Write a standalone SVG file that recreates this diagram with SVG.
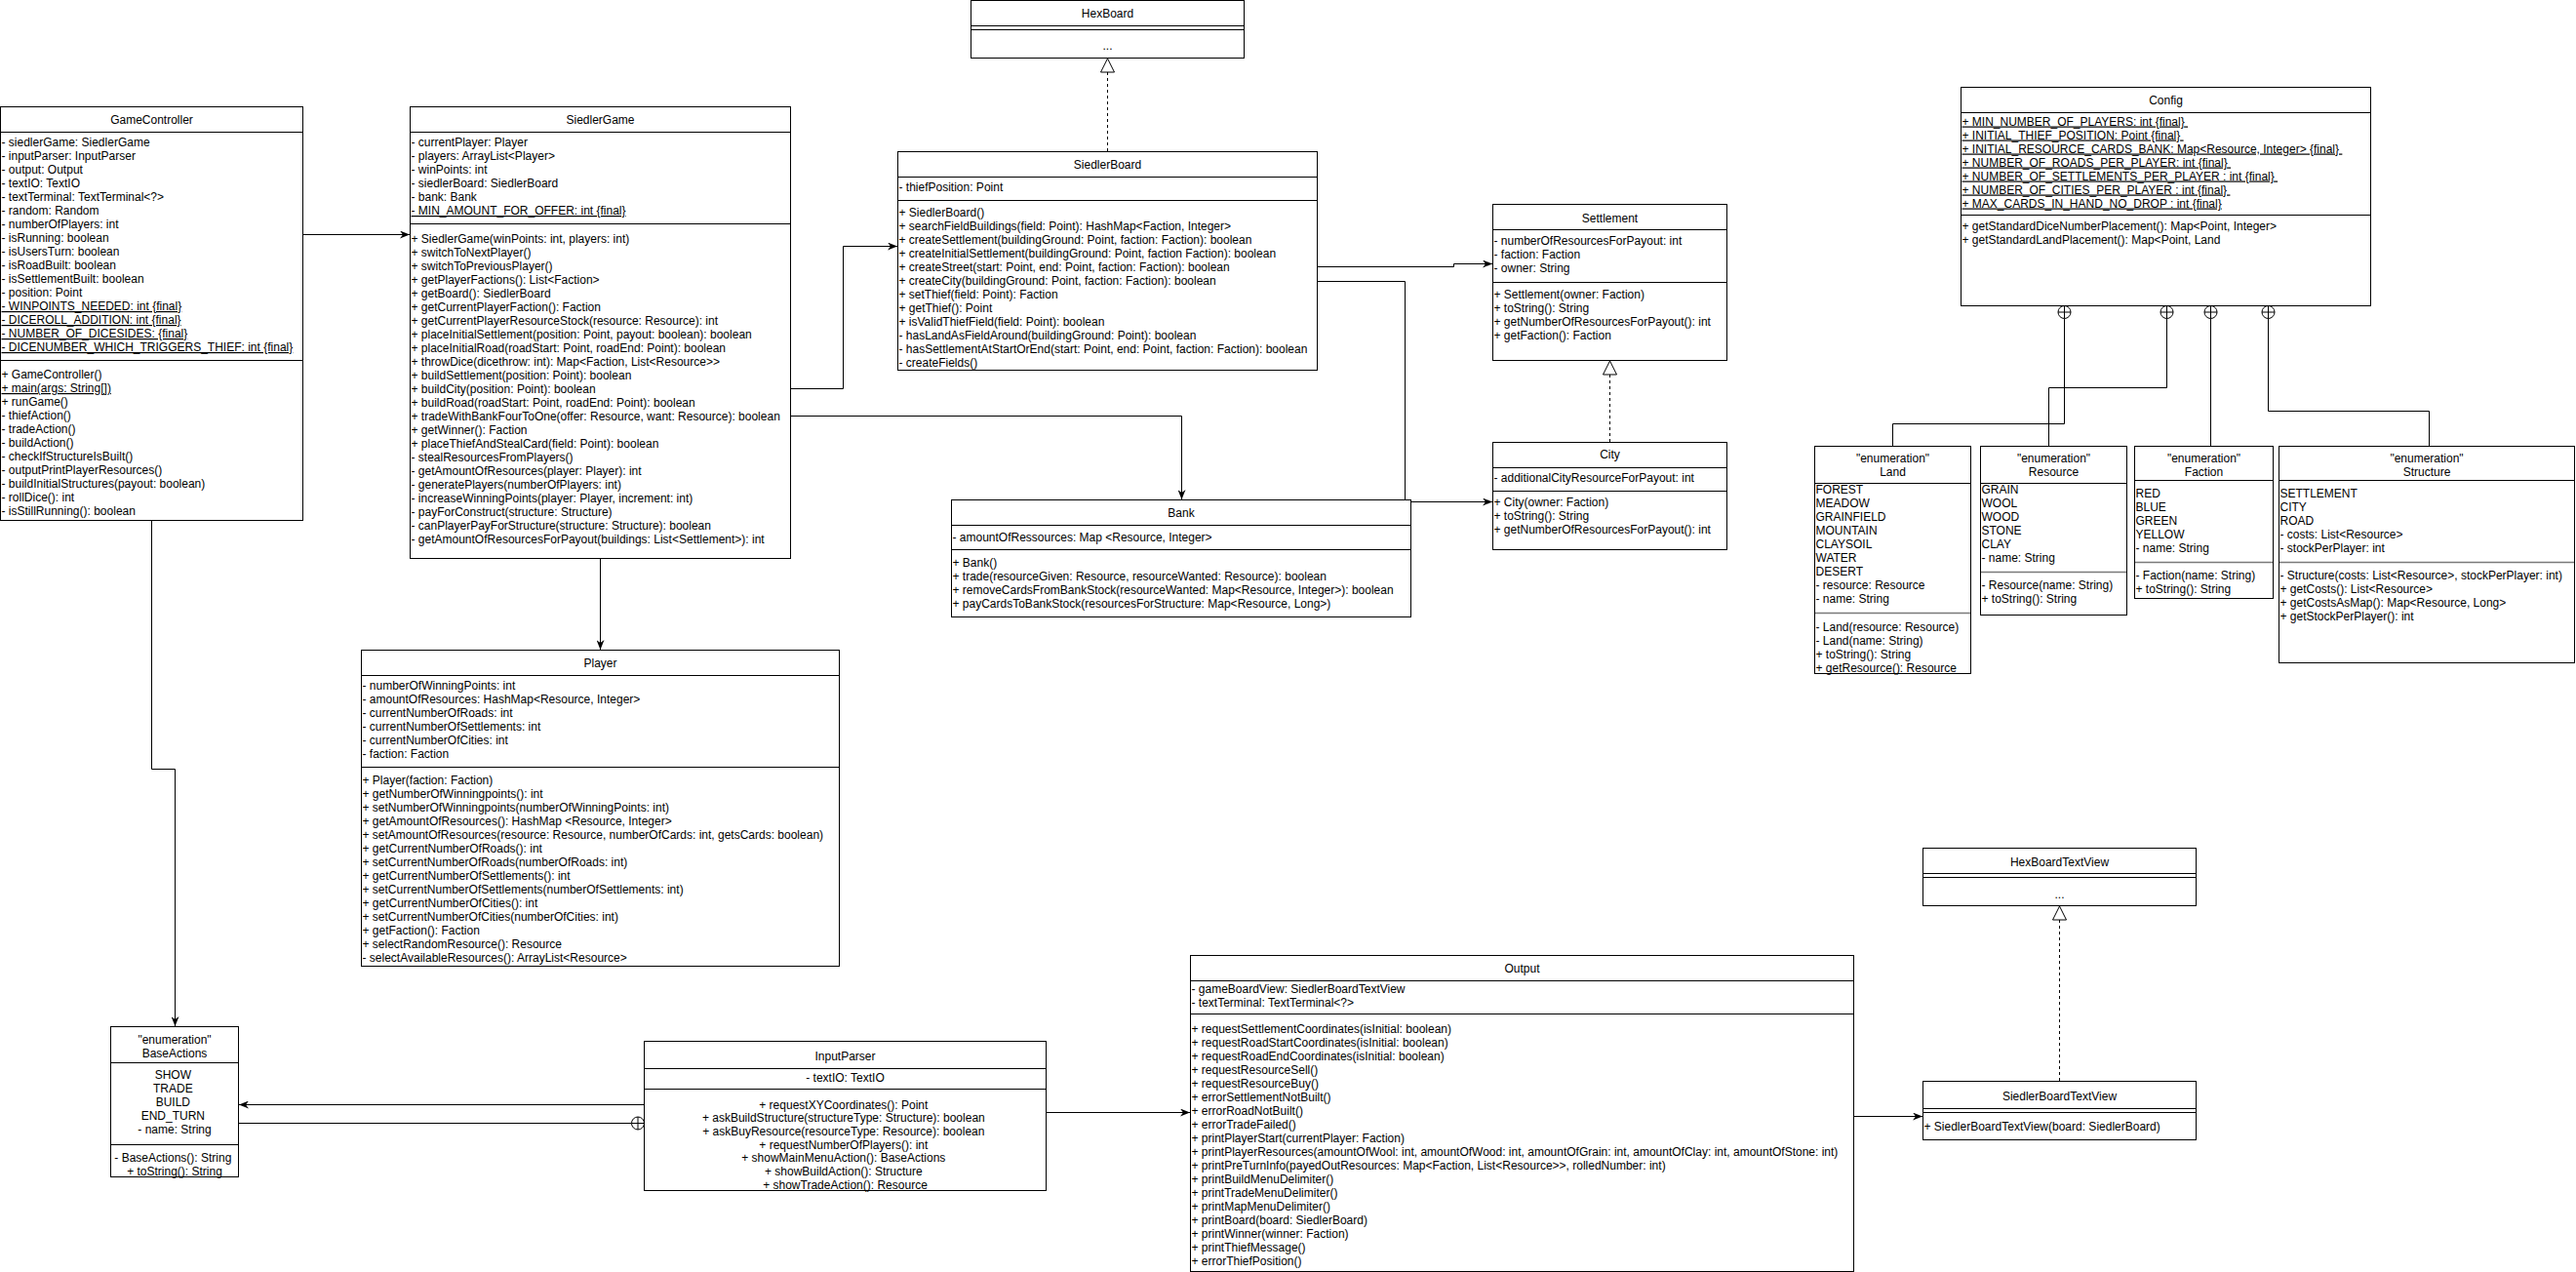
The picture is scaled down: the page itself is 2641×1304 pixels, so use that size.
<svg xmlns="http://www.w3.org/2000/svg" width="2641" height="1304" viewBox="0 0 2641 1304">
<style>
.box{fill:#fff;stroke:#000;stroke-width:1}
.sep{stroke:#000;stroke-width:1}
.gsep{stroke:#7a7a7a;stroke-width:1.5}
text{font-family:"Liberation Sans",Arial,Helvetica,sans-serif;font-size:12px;fill:#000}
.c{text-anchor:middle}
.u{text-decoration:underline}
.edge{fill:none;stroke:#000;stroke-width:1}
.dash{stroke-dasharray:3 3}
.cp{fill:#fff;stroke:#000;stroke-width:1}
</style>
<defs>
<marker id="arr" viewBox="0 0 10 8" refX="10" refY="4" markerWidth="10" markerHeight="8" markerUnits="userSpaceOnUse" orient="auto"><path d="M0,0 L10,4 L0,8 L3,4 Z" fill="#000"/></marker>
<marker id="tri" viewBox="0 0 16 16" refX="15" refY="8" markerWidth="16" markerHeight="16" markerUnits="userSpaceOnUse" orient="auto"><path d="M1,1 L15,8 L1,15 Z" fill="#fff" stroke="#000" stroke-width="1"/></marker>
</defs>
<rect x="0" y="0" width="2641" height="1304" fill="#fff"/>

<g id="connectors">
<path class="edge" d="M311 240.5 H420" marker-end="url(#arr)"/>
<path class="edge" d="M811 398.5 H864.5 V252.5 H920" marker-end="url(#arr)"/>
<path class="edge" d="M811 426.5 H1211.5 V512" marker-end="url(#arr)"/>
<path class="edge" d="M615.5 573 V666" marker-end="url(#arr)"/>
<path class="edge" d="M1351 273.5 H1490.5 V270.5 H1530" marker-end="url(#arr)"/>
<path class="edge" d="M1351 288.5 H1440.5 V514.5 H1530" marker-end="url(#arr)"/>
<path class="edge" d="M155.5 534 V788.5 H179.5 V1052" marker-end="url(#arr)"/>
<path class="edge" d="M660 1132.5 H245" marker-end="url(#arr)"/>
<path class="edge" d="M245 1151.5 H647.5"/>
<circle class="cp" cx="654" cy="1151.5" r="6.5"/>
<path class="edge" d="M647.5 1151.5 H660.5 M654 1145 V1158"/>
<path class="edge" d="M1073 1140.5 H1220" marker-end="url(#arr)"/>
<path class="edge" d="M1901 1144.5 H1971" marker-end="url(#arr)"/>
<path class="edge dash" d="M1135.5 155 V60" marker-end="url(#tri)"/>
<path class="edge dash" d="M1650.5 453 V370" marker-end="url(#tri)"/>
<path class="edge dash" d="M2111.5 1108 V929" marker-end="url(#tri)"/>
<path class="edge" d="M2116.5 326.5 V434.5 H1940.5 V457.5"/>
<path class="edge" d="M2221.5 326.5 V397.5 H2100.5 V457.5"/>
<path class="edge" d="M2266.5 326.5 V457.5"/>
<path class="edge" d="M2325.5 326.5 V421.5 H2490.5 V457.5"/>
<circle class="cp" cx="2116.5" cy="320" r="6.5"/>
<path class="edge" d="M2110 320 H2123 M2116.5 313.5 V326.5"/>
<circle class="cp" cx="2221.5" cy="320" r="6.5"/>
<path class="edge" d="M2215 320 H2228 M2221.5 313.5 V326.5"/>
<circle class="cp" cx="2266.5" cy="320" r="6.5"/>
<path class="edge" d="M2260 320 H2273 M2266.5 313.5 V326.5"/>
<circle class="cp" cx="2325.5" cy="320" r="6.5"/>
<path class="edge" d="M2319 320 H2332 M2325.5 313.5 V326.5"/>
</g>

<g id="GameController">
<rect class="box" x="0.5" y="109.5" width="310" height="424"/>
<line class="sep" x1="0.5" y1="135.5" x2="310.5" y2="135.5"/>
<line class="sep" x1="0.5" y1="369.5" x2="310.5" y2="369.5"/>
<text class="c" x="155.5" y="126.5">GameController</text>
<text x="1.5" y="150">
<tspan x="1.5">- siedlerGame: SiedlerGame</tspan>
<tspan x="1.5" dy="14">- inputParser: InputParser</tspan>
<tspan x="1.5" dy="14">- output: Output</tspan>
<tspan x="1.5" dy="14">- textIO: TextIO</tspan>
<tspan x="1.5" dy="14">- textTerminal: TextTerminal&lt;?&gt;</tspan>
<tspan x="1.5" dy="14">- random: Random</tspan>
<tspan x="1.5" dy="14">- numberOfPlayers: int</tspan>
<tspan x="1.5" dy="14">- isRunning: boolean</tspan>
<tspan x="1.5" dy="14">- isUsersTurn: boolean</tspan>
<tspan x="1.5" dy="14">- isRoadBuilt: boolean</tspan>
<tspan x="1.5" dy="14">- isSettlementBuilt: boolean</tspan>
<tspan x="1.5" dy="14">- position: Point</tspan>
<tspan x="1.5" dy="14" class="u">- WINPOINTS_NEEDED: int {final}</tspan>
<tspan x="1.5" dy="14" class="u">- DICEROLL_ADDITION: int {final}</tspan>
<tspan x="1.5" dy="14" class="u">- NUMBER_OF_DICESIDES: {final}</tspan>
<tspan x="1.5" dy="14" class="u">- DICENUMBER_WHICH_TRIGGERS_THIEF: int {final}</tspan>
</text>
<text x="1.5" y="388">
<tspan x="1.5">+ GameController()</tspan>
<tspan x="1.5" dy="14" class="u">+ main(args: String[])</tspan>
<tspan x="1.5" dy="14">+ runGame()</tspan>
<tspan x="1.5" dy="14">- thiefAction()</tspan>
<tspan x="1.5" dy="14">- tradeAction()</tspan>
<tspan x="1.5" dy="14">- buildAction()</tspan>
<tspan x="1.5" dy="14">- checkIfStructureIsBuilt()</tspan>
<tspan x="1.5" dy="14">- outputPrintPlayerResources()</tspan>
<tspan x="1.5" dy="14">- buildInitialStructures(payout: boolean)</tspan>
<tspan x="1.5" dy="14">- rollDice(): int</tspan>
<tspan x="1.5" dy="14">- isStillRunning(): boolean</tspan>
</text>
</g>

<g id="SiedlerGame">
<rect class="box" x="420.5" y="109.5" width="390" height="463"/>
<line class="sep" x1="420.5" y1="135.5" x2="810.5" y2="135.5"/>
<line class="sep" x1="420.5" y1="229.5" x2="810.5" y2="229.5"/>
<text class="c" x="615.5" y="126.5">SiedlerGame</text>
<text x="421.5" y="150">
<tspan x="421.5">- currentPlayer: Player</tspan>
<tspan x="421.5" dy="14">- players: ArrayList&lt;Player&gt;</tspan>
<tspan x="421.5" dy="14">- winPoints: int</tspan>
<tspan x="421.5" dy="14">- siedlerBoard: SiedlerBoard</tspan>
<tspan x="421.5" dy="14">- bank: Bank</tspan>
<tspan x="421.5" dy="14" class="u">- MIN_AMOUNT_FOR_OFFER: int {final}</tspan>
</text>
<text x="421.5" y="248.5">
<tspan x="421.5">+ SiedlerGame(winPoints: int, players: int)</tspan>
<tspan x="421.5" dy="14">+ switchToNextPlayer()</tspan>
<tspan x="421.5" dy="14">+ switchToPreviousPlayer()</tspan>
<tspan x="421.5" dy="14">+ getPlayerFactions(): List&lt;Faction&gt;</tspan>
<tspan x="421.5" dy="14">+ getBoard(): SiedlerBoard</tspan>
<tspan x="421.5" dy="14">+ getCurrentPlayerFaction(): Faction</tspan>
<tspan x="421.5" dy="14">+ getCurrentPlayerResourceStock(resource: Resource): int</tspan>
<tspan x="421.5" dy="14">+ placeInitialSettlement(position: Point, payout: boolean): boolean</tspan>
<tspan x="421.5" dy="14">+ placeInitialRoad(roadStart: Point, roadEnd: Point): boolean</tspan>
<tspan x="421.5" dy="14">+ throwDice(dicethrow: int): Map&lt;Faction, List&lt;Resource&gt;&gt;</tspan>
<tspan x="421.5" dy="14">+ buildSettlement(position: Point): boolean</tspan>
<tspan x="421.5" dy="14">+ buildCity(position: Point): boolean</tspan>
<tspan x="421.5" dy="14">+ buildRoad(roadStart: Point, roadEnd: Point): boolean</tspan>
<tspan x="421.5" dy="14">+ tradeWithBankFourToOne(offer: Resource, want: Resource): boolean</tspan>
<tspan x="421.5" dy="14">+ getWinner(): Faction</tspan>
<tspan x="421.5" dy="14">+ placeThiefAndStealCard(field: Point): boolean</tspan>
<tspan x="421.5" dy="14">- stealResourcesFromPlayers()</tspan>
<tspan x="421.5" dy="14">- getAmountOfResources(player: Player): int</tspan>
<tspan x="421.5" dy="14">- generatePlayers(numberOfPlayers: int)</tspan>
<tspan x="421.5" dy="14">- increaseWinningPoints(player: Player, increment: int)</tspan>
<tspan x="421.5" dy="14">- payForConstruct(structure: Structure)</tspan>
<tspan x="421.5" dy="14">- canPlayerPayForStructure(structure: Structure): boolean</tspan>
<tspan x="421.5" dy="14">- getAmountOfResourcesForPayout(buildings: List&lt;Settlement&gt;): int</tspan>
</text>
</g>

<g id="HexBoard">
<rect class="box" x="995.5" y="0.5" width="280" height="59"/>
<line class="sep" x1="995.5" y1="26.5" x2="1275.5" y2="26.5"/>
<line class="sep" x1="995.5" y1="30.5" x2="1275.5" y2="30.5"/>
<text class="c" x="1135.5" y="18">HexBoard</text>
<text class="c" x="1135.5" y="51" fill="#666">...</text>
</g>

<g id="SiedlerBoard">
<rect class="box" x="920.5" y="155.5" width="430" height="224"/>
<line class="sep" x1="920.5" y1="181.5" x2="1350.5" y2="181.5"/>
<line class="sep" x1="920.5" y1="205.5" x2="1350.5" y2="205.5"/>
<text class="c" x="1135.5" y="172.5">SiedlerBoard</text>
<text x="921.5" y="196">- thiefPosition: Point</text>
<text x="921.5" y="222">
<tspan x="921.5">+ SiedlerBoard()</tspan>
<tspan x="921.5" dy="14">+ searchFieldBuildings(field: Point): HashMap&lt;Faction, Integer&gt;</tspan>
<tspan x="921.5" dy="14">+ createSettlement(buildingGround: Point, faction: Faction): boolean</tspan>
<tspan x="921.5" dy="14">+ createInitialSettlement(buildingGround: Point, faction Faction): boolean</tspan>
<tspan x="921.5" dy="14">+ createStreet(start: Point, end: Point, faction: Faction): boolean</tspan>
<tspan x="921.5" dy="14">+ createCity(buildingGround: Point, faction: Faction): boolean</tspan>
<tspan x="921.5" dy="14">+ setThief(field: Point): Faction</tspan>
<tspan x="921.5" dy="14">+ getThief(): Point</tspan>
<tspan x="921.5" dy="14">+ isValidThiefField(field: Point): boolean</tspan>
<tspan x="921.5" dy="14">- hasLandAsFieldAround(buildingGround: Point): boolean</tspan>
<tspan x="921.5" dy="14">- hasSettlementAtStartOrEnd(start: Point, end: Point, faction: Faction): boolean</tspan>
<tspan x="921.5" dy="14">- createFields()</tspan>
</text>
</g>

<g id="Settlement">
<rect class="box" x="1530.5" y="209.5" width="240" height="160"/>
<line class="sep" x1="1530.5" y1="235.5" x2="1770.5" y2="235.5"/>
<line class="sep" x1="1530.5" y1="289.5" x2="1770.5" y2="289.5"/>
<text class="c" x="1650.5" y="227.5">Settlement</text>
<text x="1531.5" y="251">
<tspan x="1531.5">- numberOfResourcesForPayout: int</tspan>
<tspan x="1531.5" dy="14">- faction: Faction</tspan>
<tspan x="1531.5" dy="14">- owner: String</tspan>
</text>
<text x="1531.5" y="306">
<tspan x="1531.5">+ Settlement(owner: Faction)</tspan>
<tspan x="1531.5" dy="14">+ toString(): String</tspan>
<tspan x="1531.5" dy="14">+ getNumberOfResourcesForPayout(): int</tspan>
<tspan x="1531.5" dy="14">+ getFaction(): Faction</tspan>
</text>
</g>

<g id="City">
<rect class="box" x="1530.5" y="453.5" width="240" height="110"/>
<line class="sep" x1="1530.5" y1="479.5" x2="1770.5" y2="479.5"/>
<line class="sep" x1="1530.5" y1="503.5" x2="1770.5" y2="503.5"/>
<text class="c" x="1650.5" y="469.5">City</text>
<text x="1531.5" y="494">- additionalCityResourceForPayout: int</text>
<text x="1531.5" y="519">
<tspan x="1531.5">+ City(owner: Faction)</tspan>
<tspan x="1531.5" dy="14">+ toString(): String</tspan>
<tspan x="1531.5" dy="14">+ getNumberOfResourcesForPayout(): int</tspan>
</text>
</g>

<g id="Bank">
<rect class="box" x="975.5" y="512.5" width="471" height="120"/>
<line class="sep" x1="975.5" y1="538.5" x2="1446.5" y2="538.5"/>
<line class="sep" x1="975.5" y1="563.5" x2="1446.5" y2="563.5"/>
<text class="c" x="1211" y="530">Bank</text>
<text x="976.5" y="555">- amountOfRessources: Map &lt;Resource, Integer&gt;</text>
<text x="976.5" y="581">
<tspan x="976.5">+ Bank()</tspan>
<tspan x="976.5" dy="14">+ trade(resourceGiven: Resource, resourceWanted: Resource): boolean</tspan>
<tspan x="976.5" dy="14">+ removeCardsFromBankStock(resourceWanted: Map&lt;Resource, Integer&gt;): boolean</tspan>
<tspan x="976.5" dy="14">+ payCardsToBankStock(resourcesForStructure: Map&lt;Resource, Long&gt;)</tspan>
</text>
</g>

<g id="Player">
<rect class="box" x="370.5" y="666.5" width="490" height="324"/>
<line class="sep" x1="370.5" y1="692.5" x2="860.5" y2="692.5"/>
<line class="sep" x1="370.5" y1="786.5" x2="860.5" y2="786.5"/>
<text class="c" x="615.5" y="684">Player</text>
<text x="371.5" y="707">
<tspan x="371.5">- numberOfWinningPoints: int</tspan>
<tspan x="371.5" dy="14">- amountOfResources: HashMap&lt;Resource, Integer&gt;</tspan>
<tspan x="371.5" dy="14">- currentNumberOfRoads: int</tspan>
<tspan x="371.5" dy="14">- currentNumberOfSettlements: int</tspan>
<tspan x="371.5" dy="14">- currentNumberOfCities: int</tspan>
<tspan x="371.5" dy="14">- faction: Faction</tspan>
</text>
<text x="371.5" y="803.5">
<tspan x="371.5">+ Player(faction: Faction)</tspan>
<tspan x="371.5" dy="14">+ getNumberOfWinningpoints(): int</tspan>
<tspan x="371.5" dy="14">+ setNumberOfWinningpoints(numberOfWinningPoints: int)</tspan>
<tspan x="371.5" dy="14">+ getAmountOfResources(): HashMap &lt;Resource, Integer&gt;</tspan>
<tspan x="371.5" dy="14">+ setAmountOfResources(resource: Resource, numberOfCards: int, getsCards: boolean)</tspan>
<tspan x="371.5" dy="14">+ getCurrentNumberOfRoads(): int</tspan>
<tspan x="371.5" dy="14">+ setCurrentNumberOfRoads(numberOfRoads: int)</tspan>
<tspan x="371.5" dy="14">+ getCurrentNumberOfSettlements(): int</tspan>
<tspan x="371.5" dy="14">+ setCurrentNumberOfSettlements(numberOfSettlements: int)</tspan>
<tspan x="371.5" dy="14">+ getCurrentNumberOfCities(): int</tspan>
<tspan x="371.5" dy="14">+ setCurrentNumberOfCities(numberOfCities: int)</tspan>
<tspan x="371.5" dy="14">+ getFaction(): Faction</tspan>
<tspan x="371.5" dy="14">+ selectRandomResource(): Resource</tspan>
<tspan x="371.5" dy="14">- selectAvailableResources(): ArrayList&lt;Resource&gt;</tspan>
</text>
</g>

<g id="Config">
<rect class="box" x="2010.5" y="89.5" width="420" height="224"/>
<line class="sep" x1="2010.5" y1="115.5" x2="2430.5" y2="115.5"/>
<line class="sep" x1="2010.5" y1="220.5" x2="2430.5" y2="220.5"/>
<text class="c" x="2220.5" y="106.5">Config</text>
<text x="2011.5" y="128.5" class="u">
<tspan x="2011.5">+ MIN_NUMBER_OF_PLAYERS: int {final}</tspan>
<tspan x="2011.5" dy="14">+ INITIAL_THIEF_POSITION: Point {final}</tspan>
<tspan x="2011.5" dy="14">+ INITIAL_RESOURCE_CARDS_BANK: Map&lt;Resource, Integer&gt; {final}</tspan>
<tspan x="2011.5" dy="14">+ NUMBER_OF_ROADS_PER_PLAYER: int {final}</tspan>
<tspan x="2011.5" dy="14">+ NUMBER_OF_SETTLEMENTS_PER_PLAYER : int {final}</tspan>
<tspan x="2011.5" dy="14">+ NUMBER_OF_CITIES_PER_PLAYER : int {final}</tspan>
<tspan x="2011.5" dy="14">+ MAX_CARDS_IN_HAND_NO_DROP : int {final}</tspan>
</text>
<text x="2011.5" y="236">
<tspan x="2011.5">+ getStandardDiceNumberPlacement(): Map&lt;Point, Integer&gt;</tspan>
<tspan x="2011.5" dy="14">+ getStandardLandPlacement(): Map&lt;Point, Land</tspan>
</text>
</g>

<g id="Land">
<rect class="box" x="1860.5" y="457.5" width="160" height="233"/>
<line class="sep" x1="1860.5" y1="495.5" x2="2020.5" y2="495.5"/>
<line class="gsep" x1="1861" y1="628.5" x2="2020" y2="628.5"/>
<text class="c" x="1940.5" y="473.5">"enumeration"</text>
<text class="c" x="1940.5" y="487.5">Land</text>
<text x="1861.5" y="506">
<tspan x="1861.5">FOREST</tspan>
<tspan x="1861.5" dy="14">MEADOW</tspan>
<tspan x="1861.5" dy="14">GRAINFIELD</tspan>
<tspan x="1861.5" dy="14">MOUNTAIN</tspan>
<tspan x="1861.5" dy="14">CLAYSOIL</tspan>
<tspan x="1861.5" dy="14">WATER</tspan>
<tspan x="1861.5" dy="14">DESERT</tspan>
<tspan x="1861.5" dy="14">- resource: Resource</tspan>
<tspan x="1861.5" dy="14">- name: String</tspan>
</text>
<text x="1861.5" y="646.5">
<tspan x="1861.5">- Land(resource: Resource)</tspan>
<tspan x="1861.5" dy="14">- Land(name: String)</tspan>
<tspan x="1861.5" dy="14">+ toString(): String</tspan>
<tspan x="1861.5" dy="14">+ getResource(): Resource</tspan>
</text>
</g>

<g id="Resource">
<rect class="box" x="2030.5" y="457.5" width="150" height="173"/>
<line class="sep" x1="2030.5" y1="495.5" x2="2180.5" y2="495.5"/>
<line class="gsep" x1="2031" y1="586.5" x2="2180" y2="586.5"/>
<text class="c" x="2105.5" y="473.5">"enumeration"</text>
<text class="c" x="2105.5" y="487.5">Resource</text>
<text x="2031.5" y="506">
<tspan x="2031.5">GRAIN</tspan>
<tspan x="2031.5" dy="14">WOOL</tspan>
<tspan x="2031.5" dy="14">WOOD</tspan>
<tspan x="2031.5" dy="14">STONE</tspan>
<tspan x="2031.5" dy="14">CLAY</tspan>
<tspan x="2031.5" dy="14">- name: String</tspan>
</text>
<text x="2031.5" y="604">
<tspan x="2031.5">- Resource(name: String)</tspan>
<tspan x="2031.5" dy="14">+ toString(): String</tspan>
</text>
</g>

<g id="Faction">
<rect class="box" x="2188.5" y="457.5" width="142" height="156"/>
<line class="sep" x1="2188.5" y1="492.5" x2="2330.5" y2="492.5"/>
<line class="gsep" x1="2189" y1="576.5" x2="2330" y2="576.5"/>
<text class="c" x="2259.5" y="473.5">"enumeration"</text>
<text class="c" x="2259.5" y="487.5">Faction</text>
<text x="2189.5" y="509.5">
<tspan x="2189.5">RED</tspan>
<tspan x="2189.5" dy="14">BLUE</tspan>
<tspan x="2189.5" dy="14">GREEN</tspan>
<tspan x="2189.5" dy="14">YELLOW</tspan>
<tspan x="2189.5" dy="14">- name: String</tspan>
</text>
<text x="2189.5" y="594">
<tspan x="2189.5">- Faction(name: String)</tspan>
<tspan x="2189.5" dy="14">+ toString(): String</tspan>
</text>
</g>

<g id="Structure">
<rect class="box" x="2336.5" y="457.5" width="303" height="222"/>
<line class="sep" x1="2336.5" y1="492.5" x2="2639.5" y2="492.5"/>
<line class="gsep" x1="2337" y1="576.5" x2="2639" y2="576.5"/>
<text class="c" x="2488" y="473.5">"enumeration"</text>
<text class="c" x="2488" y="487.5">Structure</text>
<text x="2337.5" y="509.5">
<tspan x="2337.5">SETTLEMENT</tspan>
<tspan x="2337.5" dy="14">CITY</tspan>
<tspan x="2337.5" dy="14">ROAD</tspan>
<tspan x="2337.5" dy="14">- costs: List&lt;Resource&gt;</tspan>
<tspan x="2337.5" dy="14">- stockPerPlayer: int</tspan>
</text>
<text x="2337.5" y="594">
<tspan x="2337.5">- Structure(costs: List&lt;Resource&gt;, stockPerPlayer: int)</tspan>
<tspan x="2337.5" dy="14">+ getCosts(): List&lt;Resource&gt;</tspan>
<tspan x="2337.5" dy="14">+ getCostsAsMap(): Map&lt;Resource, Long&gt;</tspan>
<tspan x="2337.5" dy="14">+ getStockPerPlayer(): int</tspan>
</text>
</g>

<g id="BaseActions">
<rect class="box" x="113.5" y="1052.5" width="131" height="154"/>
<line class="sep" x1="113.5" y1="1089.5" x2="244.5" y2="1089.5"/>
<line class="sep" x1="113.5" y1="1173.5" x2="244.5" y2="1173.5"/>
<text class="c" x="179" y="1070">"enumeration"</text>
<text class="c" x="179" y="1084">BaseActions</text>
<text class="c" x="179" y="1106">
<tspan x="179">SHOW</tspan>
<tspan x="179" dy="14">TRADE</tspan>
<tspan x="179" dy="14">BUILD</tspan>
<tspan x="179" dy="14">END_TURN</tspan>
<tspan x="179" dy="14">- name: String</tspan>
</text>
<text class="c" x="179" y="1191">
<tspan x="179">- BaseActions(): String</tspan>
<tspan x="179" dy="14">+ toString(): String</tspan>
</text>
</g>

<g id="InputParser">
<rect class="box" x="660.5" y="1067.5" width="412" height="153"/>
<line class="sep" x1="660.5" y1="1095.5" x2="1072.5" y2="1095.5"/>
<line class="sep" x1="660.5" y1="1116.5" x2="1072.5" y2="1116.5"/>
<text class="c" x="866.5" y="1086.5">InputParser</text>
<text class="c" x="866.5" y="1108.5">- textIO: TextIO</text>
<text class="c" x="866.5" y="1136.5">
<tspan x="866.5">+ requestXYCoordinates(): Point</tspan>
<tspan x="866.5" dy="13.7">+ askBuildStructure(structureType: Structure): boolean</tspan>
<tspan x="866.5" dy="13.7">+ askBuyResource(resourceType: Resource): boolean</tspan>
<tspan x="866.5" dy="13.7">+ requestNumberOfPlayers(): int</tspan>
<tspan x="866.5" dy="13.7">+ showMainMenuAction(): BaseActions</tspan>
<tspan x="866.5" dy="13.7">+ showBuildAction(): Structure</tspan>
<tspan x="866.5" dy="13.7">+ showTradeAction(): Resource</tspan>
</text>
</g>

<g id="Output">
<rect class="box" x="1220.5" y="979.5" width="680" height="324"/>
<line class="sep" x1="1220.5" y1="1005.5" x2="1900.5" y2="1005.5"/>
<line class="sep" x1="1220.5" y1="1039.5" x2="1900.5" y2="1039.5"/>
<text class="c" x="1560.5" y="996.5">Output</text>
<text x="1221.5" y="1018">
<tspan x="1221.5">- gameBoardView: SiedlerBoardTextView</tspan>
<tspan x="1221.5" dy="14">- textTerminal: TextTerminal&lt;?&gt;</tspan>
</text>
<text x="1221.5" y="1059">
<tspan x="1221.5">+ requestSettlementCoordinates(isInitial: boolean)</tspan>
<tspan x="1221.5" dy="14">+ requestRoadStartCoordinates(isInitial: boolean)</tspan>
<tspan x="1221.5" dy="14">+ requestRoadEndCoordinates(isInitial: boolean)</tspan>
<tspan x="1221.5" dy="14">+ requestResourceSell()</tspan>
<tspan x="1221.5" dy="14">+ requestResourceBuy()</tspan>
<tspan x="1221.5" dy="14">+ errorSettlementNotBuilt()</tspan>
<tspan x="1221.5" dy="14">+ errorRoadNotBuilt()</tspan>
<tspan x="1221.5" dy="14">+ errorTradeFailed()</tspan>
<tspan x="1221.5" dy="14">+ printPlayerStart(currentPlayer: Faction)</tspan>
<tspan x="1221.5" dy="14">+ printPlayerResources(amountOfWool: int, amountOfWood: int, amountOfGrain: int, amountOfClay: int, amountOfStone: int)</tspan>
<tspan x="1221.5" dy="14">+ printPreTurnInfo(payedOutResources: Map&lt;Faction, List&lt;Resource&gt;&gt;, rolledNumber: int)</tspan>
<tspan x="1221.5" dy="14">+ printBuildMenuDelimiter()</tspan>
<tspan x="1221.5" dy="14">+ printTradeMenuDelimiter()</tspan>
<tspan x="1221.5" dy="14">+ printMapMenuDelimiter()</tspan>
<tspan x="1221.5" dy="14">+ printBoard(board: SiedlerBoard)</tspan>
<tspan x="1221.5" dy="14">+ printWinner(winner: Faction)</tspan>
<tspan x="1221.5" dy="14">+ printThiefMessage()</tspan>
<tspan x="1221.5" dy="14">+ errorThiefPosition()</tspan>
</text>
</g>

<g id="HexBoardTextView">
<rect class="box" x="1971.5" y="869.5" width="280" height="59"/>
<line class="sep" x1="1971.5" y1="895.5" x2="2251.5" y2="895.5"/>
<line class="sep" x1="1971.5" y1="899.5" x2="2251.5" y2="899.5"/>
<text class="c" x="2111.5" y="888">HexBoardTextView</text>
<text class="c" x="2111.5" y="921" fill="#666">...</text>
</g>

<g id="SiedlerBoardTextView">
<rect class="box" x="1971.5" y="1108.5" width="280" height="60"/>
<line class="sep" x1="1971.5" y1="1136.5" x2="2251.5" y2="1136.5"/>
<line class="sep" x1="1971.5" y1="1140.5" x2="2251.5" y2="1140.5"/>
<text class="c" x="2111.5" y="1127.5">SiedlerBoardTextView</text>
<text x="1972.5" y="1159">+ SiedlerBoardTextView(board: SiedlerBoard)</text>
</g>
</svg>
